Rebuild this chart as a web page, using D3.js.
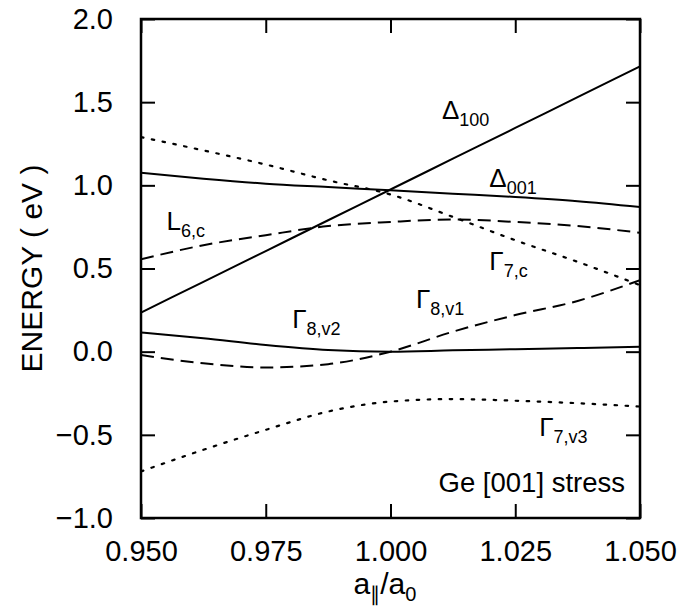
<!DOCTYPE html>
<html>
<head>
<meta charset="utf-8">
<script src="https://cdn.jsdelivr.net/npm/d3@7"></script>
<style>
  html, body { margin: 0; padding: 0; background: #fff; }
  svg { display: block; }
  text { font-family: "Liberation Sans", Arial, Helvetica, sans-serif; fill: #000; }
</style>
</head>
<body>
<svg id="chart" width="680" height="610"></svg>
<script>
// ---------------- data ----------------
const xTicks = [0.950, 0.975, 1.000, 1.025, 1.050];
const yTicks = [-1.0, -0.5, 0.0, 0.5, 1.0, 1.5, 2.0];
const strain = [0.95, 0.9625, 0.975, 0.9875, 1.0, 1.0125, 1.025, 1.0375, 1.05];

const delta100 = [0.235, 0.42, 0.605, 0.79, 0.975, 1.16, 1.345, 1.53, 1.715];
const delta001 = [1.075, 1.04, 1.01, 0.99, 0.97, 0.95, 0.93, 0.905, 0.87];
const gamma7c  = [1.29, 1.21, 1.125, 1.03, 0.945, 0.81, 0.67, 0.54, 0.40];
const l6c      = [0.555, 0.64, 0.70, 0.755, 0.78, 0.795, 0.78, 0.755, 0.715];
const gamma8v2 = [0.115, 0.08, 0.04, 0.01, 0.0, 0.008, 0.015, 0.022, 0.03];
const gamma8v1 = [-0.02, -0.07, -0.095, -0.075, 0.0, 0.12, 0.22, 0.305, 0.43];
const gamma7v3 = [-0.72, -0.59, -0.47, -0.36, -0.30, -0.285, -0.295, -0.31, -0.33];

const seriesNames  = ["Δ100", "Δ001", "Γ7,c", "L6,c", "Γ8,v2", "Γ8,v1", "Γ7,v3"];
const seriesValues = [delta100, delta001, gamma7c, l6c, gamma8v2, gamma8v1, gamma7v3];
const seriesStyle  = ["solid", "solid", "dotted", "dashed", "solid", "dashed", "dotted"];

// labels: [main symbol, subscript, x, y]
const labelMain = ["Δ", "Δ", "L", "Γ", "Γ", "Γ", "Γ"];
const labelSub  = ["100", "001", "6,c", "7,c", "8,v2", "8,v1", "7,v3"];
const labelX    = [1.0103, 1.0198, 0.9551, 1.0198, 0.9803, 1.0051, 1.0298];
const labelY    = [1.40, 0.99, 0.73, 0.49, 0.145, 0.26, -0.506];

// ---------------- layout ----------------
const svg = d3.select("#chart");
const L = 141, R = 640, T = 19, B = 518;
const x = d3.scaleLinear().domain([0.95, 1.05]).range([L, R]);
const y = d3.scaleLinear().domain([-1.0, 2.0]).range([B, T]);
const tickLen = 14;

const dashes = { solid: null, dashed: "13,7", dotted: "2.5,8.5" };

// curves
const line = d3.line()
  .x((d, i) => x(strain[i]))
  .y(d => y(d))
  .curve(d3.curveMonotoneX);

svg.append("clipPath").attr("id", "clip")
  .append("rect").attr("x", L).attr("y", T).attr("width", R - L).attr("height", B - T);

const g = svg.append("g").attr("clip-path", "url(#clip)");
seriesValues.forEach((vals, k) => {
  g.append("path")
    .datum(vals)
    .attr("d", line)
    .attr("fill", "none")
    .attr("stroke", "#000")
    .attr("stroke-width", seriesStyle[k] === "dotted" ? 2.2 : 2)
    .attr("stroke-linecap", seriesStyle[k] === "dotted" ? "round" : "butt")
    .attr("stroke-dasharray", dashes[seriesStyle[k]]);
});

// axes (ticks inward on all four sides)
const fmtX = d3.format(".3f");
const fmtY = v => (v < 0 ? "\u2212" : "") + d3.format(".1f")(Math.abs(v));

const axBottom = d3.axisBottom(x).tickValues(xTicks).tickSizeInner(-tickLen).tickSizeOuter(0).tickPadding(tickLen + 8).tickFormat(fmtX);
const axTop    = d3.axisTop(x).tickValues(xTicks).tickSizeInner(-tickLen).tickSizeOuter(0).tickFormat("");
const axLeft   = d3.axisLeft(y).tickValues(yTicks).tickSizeInner(-tickLen).tickSizeOuter(0).tickPadding(tickLen + 14).tickFormat(fmtY);
const axRight  = d3.axisRight(y).tickValues(yTicks).tickSizeInner(-tickLen).tickSizeOuter(0).tickFormat("");

function style(sel) {
  sel.select(".domain").remove();
  sel.selectAll(".tick line").attr("stroke", "#000").attr("stroke-width", 2);
  sel.selectAll(".tick text").attr("font-size", 29).attr("fill", "#000")
     .style("font-family", '"Liberation Sans", Arial, Helvetica, sans-serif');
}
svg.append("g").attr("transform", `translate(0,${B})`).call(axBottom).call(style);
svg.append("g").attr("transform", `translate(0,${T})`).call(axTop).call(style);
svg.append("g").attr("transform", `translate(${L},0)`).call(axLeft).call(style);
svg.append("g").attr("transform", `translate(${R},0)`).call(axRight).call(style);

// frame
svg.append("rect").attr("x", L).attr("y", T).attr("width", R - L).attr("height", B - T)
  .attr("fill", "none").attr("stroke", "#000").attr("stroke-width", 2.5);

// curve labels
labelMain.forEach((m, k) => {
  const t = svg.append("text").attr("x", x(labelX[k])).attr("y", y(labelY[k])).attr("font-size", 26);
  t.append("tspan").text(m);
  t.append("tspan").attr("font-size", 18).attr("dy", 7).text(labelSub[k]);
});

// inset annotation
svg.append("text").attr("x", x(1.047)).attr("y", y(-0.843))
  .attr("text-anchor", "end").attr("font-size", 27.5).text("Ge [001] stress");

// axis titles
svg.append("text")
  .attr("transform", `translate(42,${(T + B) / 2}) rotate(-90)`)
  .attr("text-anchor", "middle").attr("font-size", 30).text("ENERGY ( eV )");

const xt = svg.append("text").attr("x", 385).attr("y", 594).attr("text-anchor", "middle").attr("font-size", 30);
xt.append("tspan").text("a");
xt.append("tspan").attr("font-size", 20).attr("dy", 7).text("\u2225");
xt.append("tspan").attr("dy", -7).text("/a");
xt.append("tspan").attr("font-size", 20).attr("dy", 7).text("0");
</script>
</body>
</html>
